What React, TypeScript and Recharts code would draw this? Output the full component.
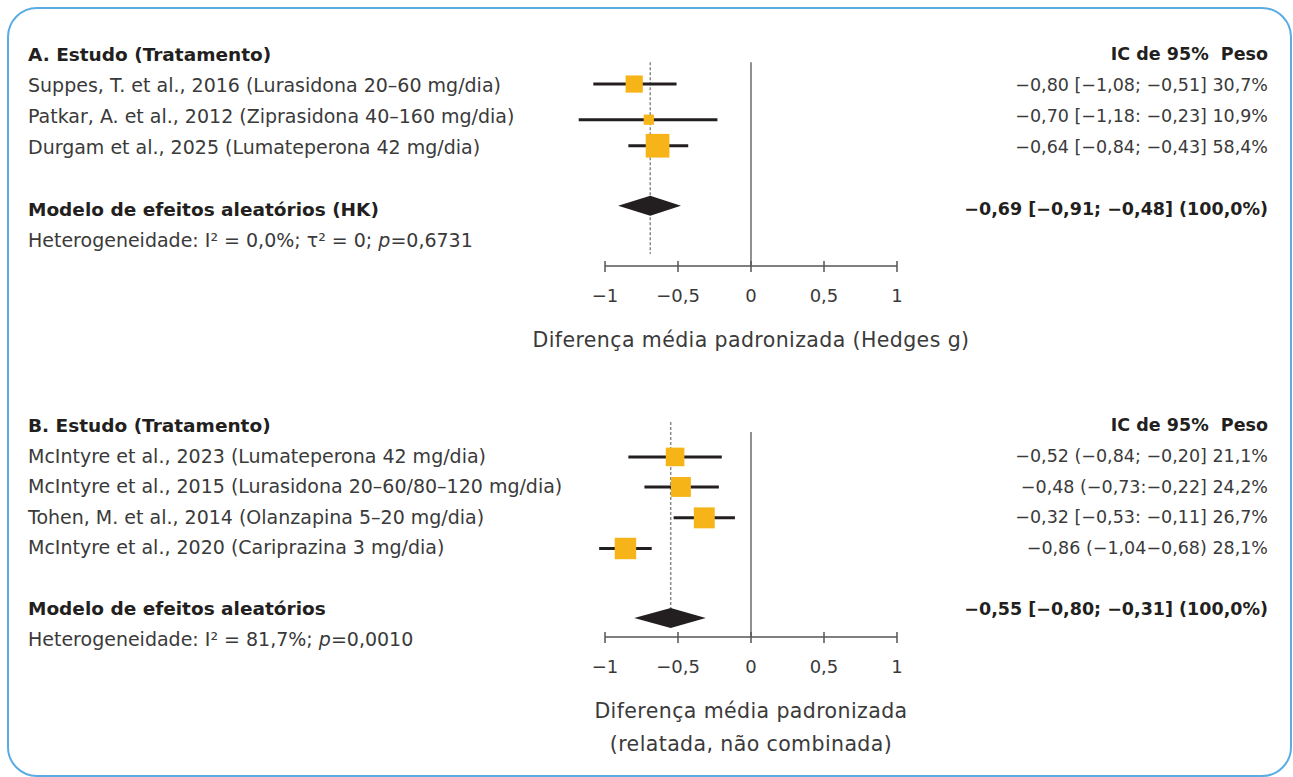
import { ComposedChart, Scatter, XAxis, YAxis, ErrorBar, ReferenceLine } from 'recharts'

const FONT = '"DejaVu Sans", sans-serif'
const TEXT = '#3a3a3a'
const DARK = '#231f20'
const GOLD = '#f7b418'
const AXIS = '#555'
const FS_LEFT = 19
const FS_LEFT_BOLD = 18.5
const FS_RIGHT = 17.5
const FS_TICK = 18
const FS_TITLE = 20.5

// ---- Panel A: treatment studies
const A_LEFT = [
  'A. Estudo (Tratamento)',
  'Suppes, T. et al., 2016 (Lurasidona 20–60 mg/dia)',
  'Patkar, A. et al., 2012 (Ziprasidona 40–160 mg/dia)',
  'Durgam et al., 2025 (Lumateperona 42 mg/dia)',
  '',
  'Modelo de efeitos aleatórios (HK)',
]
const A_RIGHT = [
  'IC de 95%\u00a0\u00a0Peso',
  '−0,80 [−1,08; −0,51] 30,7%',
  '−0,70 [−1,18: −0,23] 10,9%',
  '−0,64 [−0,84; −0,43] 58,4%',
  '',
  '−0,69 [−0,91; −0,48] (100,0%)',
]
const A_HET = ['Heterogeneidade: I² = 0,0%; τ² = 0; ', '=0,6731']
const A_EST = [-0.8, -0.7, -0.64]
const A_LO = [-1.08, -1.18, -0.84]
const A_HI = [-0.51, -0.23, -0.43]
const A_WEIGHT = [30.7, 10.9, 58.4]
const A_ROW = [0.97, 2.12, 2.96]
const A_POOLED = [-0.69, -0.91, -0.48] // est, lo, hi
const A_POOLED_ROW = 4.9

// ---- Panel B: reported, not pooled
const B_LEFT = [
  'B. Estudo (Tratamento)',
  'McIntyre et al., 2023 (Lumateperona 42 mg/dia)',
  'McIntyre et al., 2015 (Lurasidona 20–60/80–120 mg/dia)',
  'Tohen, M. et al., 2014 (Olanzapina 5–20 mg/dia)',
  'McIntyre et al., 2020 (Cariprazina 3 mg/dia)',
  '',
  'Modelo de efeitos aleatórios',
]
const B_RIGHT = [
  'IC de 95%\u00a0\u00a0Peso',
  '−0,52 (−0,84; −0,20] 21,1%',
  '−0,48 (−0,73:−0,22] 24,2%',
  '−0,32 [−0,53: −0,11] 26,7%',
  '−0,86 (−1,04−0,68) 28,1%',
  '',
  '−0,55 [−0,80; −0,31] (100,0%)',
]
const B_HET = ['Heterogeneidade: I² = 81,7%; ', '=0,0010']
const B_EST = [-0.52, -0.48, -0.32, -0.86]
const B_LO = [-0.84, -0.73, -0.53, -1.04]
const B_HI = [-0.2, -0.22, -0.11, -0.68]
const B_WEIGHT = [21.1, 24.2, 26.7, 28.1]
const B_ROW = [1.04, 2.02, 3.03, 4.03]
const B_POOLED = [-0.55, -0.8, -0.31]
const B_POOLED_ROW = 6.3

const X_TICKS = [-1, -0.5, 0, 0.5, 1]
const X_DOMAIN: [number, number] = [-1.2, 1]

const fmt = (v: number) => String(v).replace('.', ',').replace('-', '−')

const XTick = (props: any) => {
  const { x, y, payload } = props
  return (
    <g>
      <line x1={x} x2={x} y1={y - 5} y2={y + 6} stroke={AXIS} strokeWidth={1.5} />
      <text x={x} y={y + 30} dy="0.35em" textAnchor="middle" fontSize={FS_TICK} fill={TEXT} fontFamily={FONT}>
        {fmt(payload.value)}
      </text>
    </g>
  )
}

const RowTick = (props: any) => {
  const { y, payload, left, right, het, hetRow, boldRows } = props
  const row = payload.value
  const bold = boldRows.includes(row)
  const weight = bold ? 700 : 400
  const fill = bold ? DARK : TEXT
  if (row === hetRow) {
    return (
      <text x={28} y={y} dy="0.36em" fontSize={FS_LEFT} fontFamily={FONT} fill={TEXT}>
        <tspan>{het[0]}</tspan>
        <tspan fontStyle="italic">p</tspan>
        <tspan>{het[1]}</tspan>
      </text>
    )
  }
  return (
    <g>
      <text x={28} y={y} dy="0.36em" fontSize={bold ? FS_LEFT_BOLD : FS_LEFT} fontFamily={FONT} fill={fill} fontWeight={weight}>
        {left[row]}
      </text>
      <text x={1268} y={y} dy="0.36em" fontSize={FS_RIGHT} fontFamily={FONT} textAnchor="end" fill={fill} fontWeight={weight}>
        {right[row]}
      </text>
    </g>
  )
}

const Square = (props: any) => {
  const { cx, cy, payload, k } = props
  const s = k * Math.sqrt(payload.w)
  return <rect x={cx - s / 2} y={cy - s / 2} width={s} height={s} fill={GOLD} />
}

const Diamond = (props: any) => {
  const pts = props.points
  if (!pts || pts.length < 3) return <g />
  const [a, b, c] = pts
  const h = 10
  return (
    <polygon
      points={`${a.x},${a.y} ${b.x},${b.y - h} ${c.x},${c.y} ${b.x},${b.y + h}`}
      fill={DARK}
    />
  )
}

interface PanelProps {
  left: string[]
  right: string[]
  het: string[]
  est: number[]
  lo: number[]
  hi: number[]
  weight: number[]
  rows: number[]
  pooled: number[]
  pooledRow: number
  hetRow: number
  textRows: number[]
  boldRows: number[]
  yMax: number
  height: number
  marginTop: number
  xHeight: number
  title: string[]
  k: number
  zeroFrom: number
  dashFrom: number
  dashTo: number
}

function ForestPanel(p: PanelProps) {
  const studies = p.est.map((e, i) => ({ x: e, y: p.rows[i], w: p.weight[i], err: [e - p.lo[i], p.hi[i] - e] }))
  const diamond = [
    { x: p.pooled[1], y: p.pooledRow },
    { x: p.pooled[0], y: p.pooledRow },
    { x: p.pooled[2], y: p.pooledRow },
  ]
  return (
    <ComposedChart width={1293} height={p.height} margin={{ top: p.marginTop, right: 396, bottom: 0, left: 0 }}>
      <XAxis
        dataKey="x"
        type="number"
        domain={X_DOMAIN}
        ticks={X_TICKS}
        interval={0}
        height={p.xHeight}
        tickSize={0}
        tickMargin={0}
        tickLine={false}
        axisLine={false}
        tick={(t: any) => <XTick {...t} />}
        label={(l: any) => {
          const vb = l.viewBox
          const cx = vb.x + (vb.width * (0 - X_DOMAIN[0])) / (X_DOMAIN[1] - X_DOMAIN[0])
          return (
            <text textAnchor="middle" fontSize={FS_TITLE} letterSpacing={0.4} fill={TEXT} fontFamily={FONT}>
              {p.title.map((s, i) => (
                <tspan key={i} x={cx} y={vb.y + 74 + i * 33} dy="0.35em">
                  {s}
                </tspan>
              ))}
            </text>
          )
        }}
      />
      <YAxis
        dataKey="y"
        type="number"
        domain={[-0.5, p.yMax]}
        reversed
        ticks={p.textRows}
        interval={0}
        width={575.8}
        axisLine={false}
        tickLine={false}
        tick={(t: any) => (
          <RowTick {...t} left={p.left} right={p.right} het={p.het} hetRow={p.hetRow} boldRows={p.boldRows} />
        )}
      />
      <ReferenceLine
        segment={[{ x: X_TICKS[0], y: p.yMax }, { x: X_TICKS[X_TICKS.length - 1], y: p.yMax }]}
        stroke={AXIS}
        strokeWidth={1.5}
      />
      <ReferenceLine segment={[{ x: 0, y: p.zeroFrom }, { x: 0, y: p.yMax }]} stroke="#6b6b6b" strokeWidth={1.5} />
      <ReferenceLine
        segment={[{ x: p.pooled[0], y: p.dashFrom }, { x: p.pooled[0], y: p.dashTo }]}
        stroke="#8a8a8a"
        strokeWidth={1.5}
        strokeDasharray="3 2"
      />
      <Scatter data={studies} isAnimationActive={false} shape={(s: any) => <Square {...s} k={p.k} />}>
        <ErrorBar dataKey="err" direction="x" width={0} stroke={DARK} strokeWidth={3} isAnimationActive={false} />
      </Scatter>
      <Scatter data={diamond} isAnimationActive={false} shape={() => <g />} line={(l: any) => <Diamond {...l} />} />
    </ComposedChart>
  )
}

export default function App() {
  return (
    <div style={{ position: 'absolute', left: 0, top: 0, width: 1293, height: 777, background: '#fff', overflow: 'hidden' }}>
      <div
        style={{
          position: 'absolute',
          left: 7,
          top: 7,
          width: 1285,
          height: 770,
          border: '2.5px solid #5aace3',
          borderRadius: 30,
          boxSizing: 'border-box',
        }}
      />
      <div style={{ position: 'absolute', left: 0, top: 0 }}>
        <ForestPanel
          left={A_LEFT}
          right={A_RIGHT}
          het={A_HET}
          est={A_EST}
          lo={A_LO}
          hi={A_HI}
          weight={A_WEIGHT}
          rows={A_ROW}
          pooled={A_POOLED}
          pooledRow={A_POOLED_ROW}
          hetRow={6}
          textRows={[0, 1, 2, 3, 5, 6]}
          boldRows={[0, 5]}
          yMax={6.84}
          height={370}
          marginTop={38.5}
          xHeight={104}
          title={['Diferença média padronizada (Hedges g)']}
          k={3.1}
          zeroFrom={0.27}
          dashFrom={0.27}
          dashTo={6.45}
        />
      </div>
      <div style={{ position: 'absolute', left: 0, top: 370 }}>
        <ForestPanel
          left={B_LEFT}
          right={B_RIGHT}
          het={B_HET}
          est={B_EST}
          lo={B_LO}
          hi={B_HI}
          weight={B_WEIGHT}
          rows={B_ROW}
          pooled={B_POOLED}
          pooledRow={B_POOLED_ROW}
          hetRow={7}
          textRows={[0, 1, 2, 3, 4, 6, 7]}
          boldRows={[0, 6]}
          yMax={6.92}
          height={397}
          marginTop={39.75}
          xHeight={130}
          title={['Diferença média padronizada', '(relatada, não combinada)']}
          k={4.05}
          zeroFrom={0.23}
          dashFrom={-0.1}
          dashTo={6.3}
        />
      </div>
    </div>
  )
}
